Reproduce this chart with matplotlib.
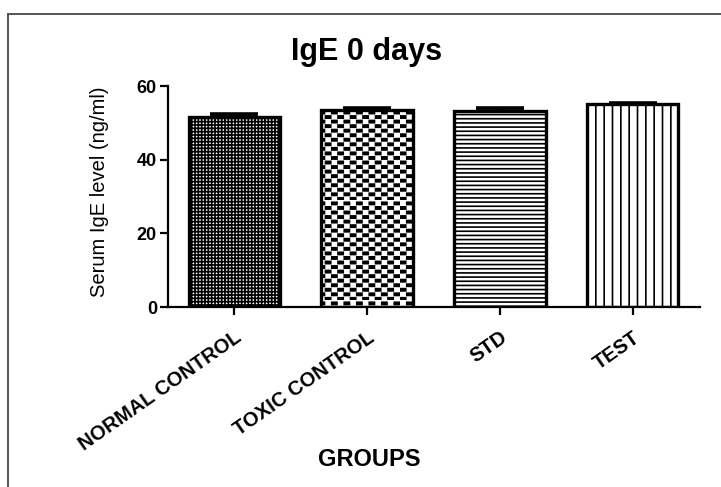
import numpy as np
import matplotlib
matplotlib.use("Agg")
import matplotlib.pyplot as plt
import matplotlib.lines as mlines
from matplotlib import hatch as mhatch
from matplotlib.path import Path

# data
groups = ['NORMAL CONTROL', 'TOXIC CONTROL', 'STD', 'TEST']
means = [51.6, 53.4, 53.3, 55.0]
sems = [0.9, 0.5, 0.6, 0.4]
hatches = ['+++++', 'O', '----', '||']


# checkerboard hatch (takes the place of the 'O' circles)
class CheckerHatch(mhatch.HatchPatternBase):
    def __init__(self, hatch, density):
        n = hatch.count('O')
        self.cols = 8 * n
        self.rows = 22 * n
        self.num_vertices = self.cols * self.rows * 5

    def set_vertices_and_codes(self, vertices, codes):
        w = 1.0 / self.cols
        h = 1.0 / self.rows
        k = 0
        for r in range(self.rows):
            shift = 0.5 * w if r % 2 else 0.0
            y0 = r * h
            y1 = y0 + 0.5 * h
            for c in range(self.cols):
                x0 = c * w + shift + 0.04 * w
                x1 = x0 + 0.42 * w
                vertices[k:k + 5] = [(x0, y0), (x1, y0), (x1, y1), (x0, y1), (x0, y0)]
                codes[k:k + 5] = [Path.MOVETO, Path.LINETO, Path.LINETO,
                                  Path.LINETO, Path.CLOSEPOLY]
                k += 5


mhatch._hatch_types = [CheckerHatch if t is mhatch.LargeCircles else t
                       for t in mhatch._hatch_types]

plt.rcParams['font.family'] = ['Liberation Sans', 'DejaVu Sans']
plt.rcParams['hatch.linewidth'] = 1.2

fig = plt.figure(figsize=(7.21, 4.87), dpi=100)
ax = fig.add_axes([0.233, 0.3696, 0.738, 0.4538])

x = np.arange(len(groups))
ax.bar(x, means, width=0.69, color='white', edgecolor='black',
       linewidth=2.4, hatch=hatches, zorder=2)
ax.errorbar(x, means, yerr=[np.zeros(len(sems)), sems], fmt='none',
            ecolor='black', elinewidth=2.2, capsize=17, capthick=2.6, zorder=3)

ax.set_xlim(-0.501, 3.509)
ax.set_ylim(0, 60)
ax.set_yticks([0, 20, 40, 60])
ax.set_xticks(x)
ax.set_xticklabels(groups, rotation=35, ha='right', va='top',
                   rotation_mode='anchor', fontsize=14.5, fontweight='bold')
for lab in ax.get_yticklabels():
    lab.set_fontsize(13)
    lab.set_fontweight('bold')

for s in ['top', 'right']:
    ax.spines[s].set_visible(False)
for s in ['left', 'bottom']:
    ax.spines[s].set_linewidth(1.6)
ax.tick_params(axis='both', direction='out', length=6, width=1.6)
ax.tick_params(axis='x', pad=9)
ax.tick_params(axis='y', pad=2)

ax.set_ylabel('Serum IgE level (ng/ml)', fontsize=14.5)
ax.yaxis.set_label_coords(-0.11, 0.52)

fig.text(0.509, 0.893, 'IgE 0 days', ha='center', va='center',
         fontsize=22, fontweight='bold')
fig.text(0.512, 0.057, 'GROUPS', ha='center', va='center',
         fontsize=17, fontweight='bold')

# outer frame (left and top only)
fig.add_artist(mlines.Line2D([0.0111, 0.0111], [0.0, 0.9713], color='#555555',
                             linewidth=1.4, transform=fig.transFigure))
fig.add_artist(mlines.Line2D([0.0111, 1.0], [0.9713, 0.9713], color='#555555',
                             linewidth=1.4, transform=fig.transFigure))

fig.savefig('out.png', dpi=100)
